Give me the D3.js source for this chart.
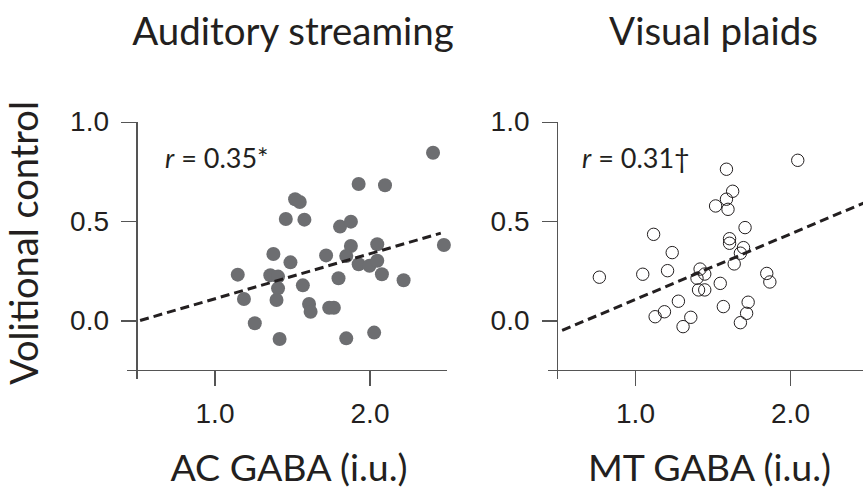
<!DOCTYPE html>
<html>
<head>
<meta charset="utf-8">
<script src="https://cdn.jsdelivr.net/npm/d3@7"></script>
<style>
  body { margin: 0; background: #fff; }
  svg { display: block; font-family: Lato, "Open Sans", sans-serif; }
  .axis path, .axis line { stroke: #555; stroke-width: 1.2; shape-rendering: crispEdges; }
  .axis text { fill: #231f20; font-size: 28px; }
</style>
</head>
<body>
<script>
// auditory streaming: AC GABA (i.u.) vs volitional control
var acGaba = [2.41, 1.93, 2.10, 1.52, 1.55, 1.46, 1.58, 1.81, 1.88, 2.48, 2.05, 1.88,
  1.38, 1.72, 1.85, 1.49, 1.93, 2.00, 2.05, 1.15, 1.36, 1.41, 2.08, 2.22,
  1.80, 1.57, 1.41, 1.19, 1.40, 1.61, 1.62, 1.74, 1.77, 1.26, 1.42, 1.85, 2.03];
var acControl = [0.845, 0.688, 0.681, 0.611, 0.597, 0.511, 0.508, 0.473, 0.498, 0.380, 0.384, 0.375,
  0.335, 0.328, 0.325, 0.293, 0.283, 0.276, 0.301, 0.231, 0.228, 0.221, 0.233, 0.203,
  0.213, 0.177, 0.162, 0.108, 0.103, 0.083, 0.044, 0.064, 0.064, -0.014, -0.093, -0.090, -0.061];

// visual plaids: MT GABA (i.u.) vs volitional control
var mtGaba = [2.05, 1.59, 1.63, 1.59, 1.52, 1.60, 1.71, 1.12, 1.61, 1.61, 1.70, 1.68,
  1.24, 1.64, 1.42, 1.45, 1.40, 1.21, 1.05, 0.77, 1.85, 1.87, 1.55, 1.41,
  1.45, 1.28, 1.73, 1.19, 1.13, 1.57, 1.72, 1.36, 1.31, 1.68];
var mtControl = [0.807, 0.762, 0.651, 0.611, 0.577, 0.560, 0.468, 0.434, 0.412, 0.389, 0.367, 0.339,
  0.342, 0.285, 0.259, 0.234, 0.213, 0.251, 0.233, 0.218, 0.237, 0.194, 0.187, 0.154,
  0.154, 0.097, 0.092, 0.044, 0.019, 0.070, 0.036, 0.016, -0.031, -0.011];

// regression lines (end points)
var acFitX = [0.52, 2.46], acFitY = [0.0, 0.44];
var mtFitX = [0.53, 2.5], mtFitY = [-0.05, 0.60];

var xMajor = [1.0, 2.0], xMinor = [0.5, 1.5, 2.5];
var yMajor = [0.0, 0.5, 1.0], yMinor = [-0.25, 0.25, 0.75];

var width = 863, height = 488;

var svg = d3.select("body").append("svg")
  .attr("width", width)
  .attr("height", height);

// shared y label
svg.append("text")
  .attr("transform", "translate(38,243) rotate(-90)")
  .attr("text-anchor", "middle")
  .style("font-size", "38px")
  .style("fill", "#231f20")
  .text("Volitional control");

drawPanel({
  x0: 137, title: "Auditory streaming", xLabel: "AC GABA (i.u.)",
  xs: acGaba, ys: acControl, fitX: acFitX, fitY: acFitY,
  r: "0.35*", rX: 165, filled: true
});
drawPanel({
  x0: 557.5, title: "Visual plaids", xLabel: "MT GABA (i.u.)",
  xs: mtGaba, ys: mtControl, fitX: mtFitX, fitY: mtFitY,
  r: "0.31\u2020", rX: 582, filled: false
});

function drawPanel(p){
  var x = d3.scaleLinear().domain([0.5, 2.5]).range([p.x0, p.x0 + 310]);
  var y = d3.scaleLinear().domain([-0.25, 1.0]).range([370.1, 122]);
  var cx = p.x0 + 155;

  //title
  svg.append("text")
    .attr("x", cx + 1)
    .attr("y", 45)
    .attr("text-anchor", "middle")
    .style("font-size", "38.5px")
    .style("fill", "#231f20")
    .text(p.title);

  //x axis: minor then major ticks
  var gx = svg.append("g")
    .attr("class", "axis")
    .attr("transform", "translate(0," + y(-0.25) + ")");
  gx.call(d3.axisBottom(x).tickValues(xMinor).tickSize(8).tickSizeOuter(0).tickFormat(""));
  gx.call(d3.axisBottom(x).tickValues(xMajor).tickSize(16).tickSizeOuter(0).tickFormat(d3.format(".1f")));
  gx.selectAll(".domain").remove();
  gx.append("line")
    .attr("x1", x(0.5) - 10).attr("x2", x(2.5));
  gx.selectAll("text").attr("y", 53).attr("dy", null);

  //y axis
  var gy = svg.append("g")
    .attr("class", "axis")
    .attr("transform", "translate(" + x(0.5) + ",0)");
  gy.call(d3.axisLeft(y).tickValues(yMinor).tickSize(8).tickSizeOuter(0).tickFormat(""));
  gy.call(d3.axisLeft(y).tickValues(yMajor).tickSize(16).tickSizeOuter(0).tickFormat(d3.format(".1f")).tickPadding(12));
  gy.selectAll(".domain").remove();
  gy.append("line")
    .attr("y1", y(1.0)).attr("y2", y(-0.25) + 9);

  //axis title
  svg.append("text")
    .attr("x", cx - 3)
    .attr("y", 481)
    .attr("text-anchor", "middle")
    .style("font-size", "37.5px")
    .style("fill", "#231f20")
    .text(p.xLabel);

  //points
  var pts = p.xs.map(function(d, i){ return [d, p.ys[i]]; });
  svg.selectAll(null)
    .data(pts)
    .enter()
    .append("circle")
    .attr("cx", function(d){ return x(d[0]); })
    .attr("cy", function(d){ return y(d[1]); })
    .attr("r", p.filled ? 7 : 6.2)
    .style("fill", p.filled ? "#6d6e71" : "#fff")
    .style("fill-opacity", p.filled ? 1 : 0)
    .style("stroke", p.filled ? "none" : "#231f20")
    .style("stroke-width", 1);

  //regression line
  svg.append("line")
    .attr("x1", x(p.fitX[0])).attr("y1", y(p.fitY[0]))
    .attr("x2", x(p.fitX[1])).attr("y2", y(p.fitY[1]))
    .style("stroke", "#231f20")
    .style("stroke-width", 3)
    .style("stroke-dasharray", "9,5");

  //correlation label
  var t = svg.append("text")
    .attr("x", p.rX)
    .attr("y", 168)
    .style("font-size", "27px")
    .style("fill", "#231f20");
  t.append("tspan").style("font-style", "italic").text("r");
  t.append("tspan").text(" = " + p.r);
}
</script>
</body>
</html>
